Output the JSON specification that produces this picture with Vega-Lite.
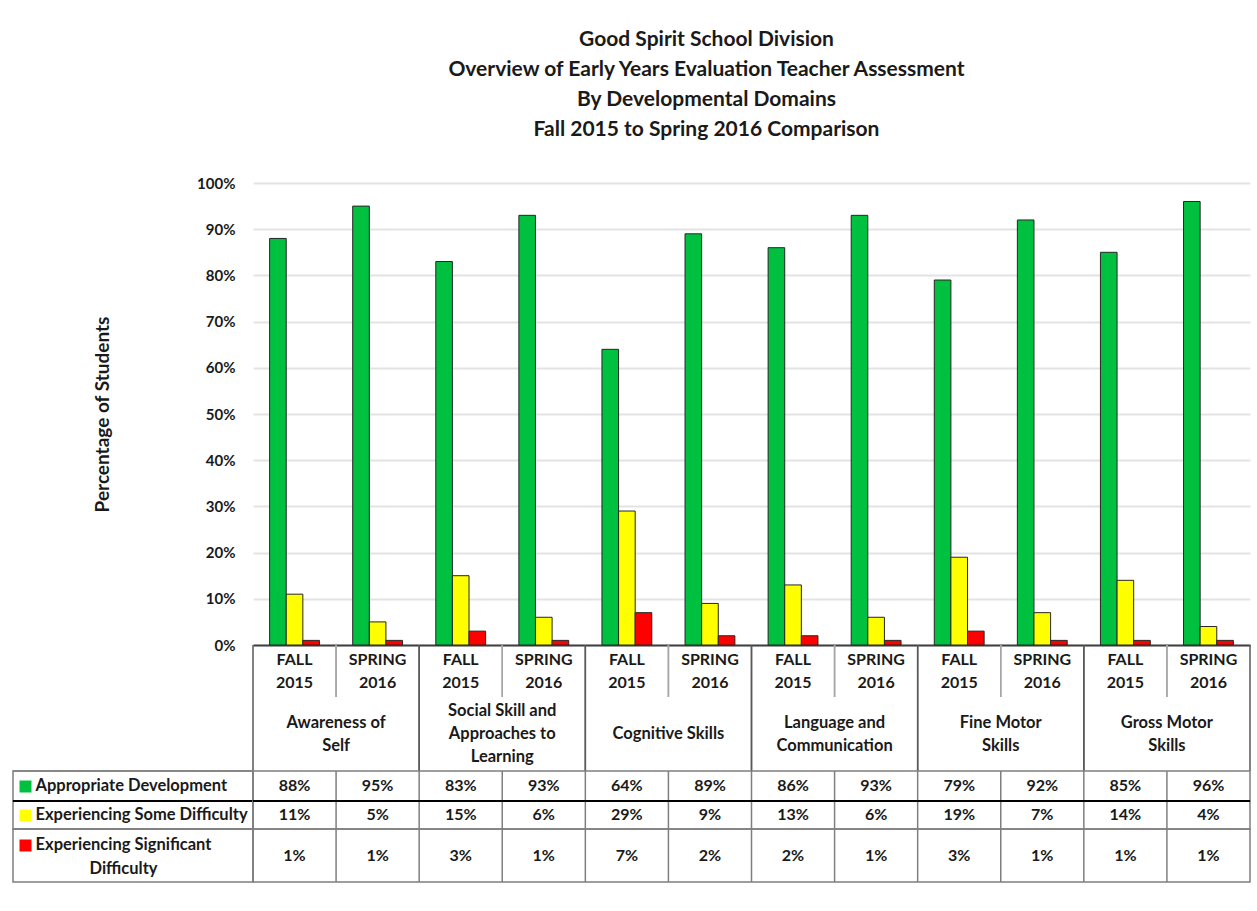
{
  "$schema": "https://vega.github.io/schema/vega-lite/v6.json",
  "background": "white",
  "padding": {"left": 11, "top": 29, "right": 7, "bottom": 10},
  "title": {
    "text": ["Good Spirit School Division", "Overview of Early Years Evaluation Teacher Assessment", "By Developmental Domains", "Fall 2015 to Spring 2016 Comparison"],
    "font": "Lato", "fontSize": 21, "fontWeight": "bold", "color": "#1a1a1a",
    "lineHeight": 30, "anchor": "middle", "dx": 75, "offset": 36
  },
  "datasets": {
    "cells": [
      {"col": "Awareness of Self · FALL 2015", "domain": "Awareness of Self", "season": "FALL 2015", "series": "Appropriate Development", "value": 0.88},
      {"col": "Awareness of Self · FALL 2015", "domain": "Awareness of Self", "season": "FALL 2015", "series": "Experiencing Some Difficulty", "value": 0.11},
      {"col": "Awareness of Self · FALL 2015", "domain": "Awareness of Self", "season": "FALL 2015", "series": "Experiencing Significant Difficulty", "value": 0.01},
      {"col": "Awareness of Self · SPRING 2016", "domain": "Awareness of Self", "season": "SPRING 2016", "series": "Appropriate Development", "value": 0.95},
      {"col": "Awareness of Self · SPRING 2016", "domain": "Awareness of Self", "season": "SPRING 2016", "series": "Experiencing Some Difficulty", "value": 0.05},
      {"col": "Awareness of Self · SPRING 2016", "domain": "Awareness of Self", "season": "SPRING 2016", "series": "Experiencing Significant Difficulty", "value": 0.01},
      {"col": "Social Skill and Approaches to Learning · FALL 2015", "domain": "Social Skill and Approaches to Learning", "season": "FALL 2015", "series": "Appropriate Development", "value": 0.83},
      {"col": "Social Skill and Approaches to Learning · FALL 2015", "domain": "Social Skill and Approaches to Learning", "season": "FALL 2015", "series": "Experiencing Some Difficulty", "value": 0.15},
      {"col": "Social Skill and Approaches to Learning · FALL 2015", "domain": "Social Skill and Approaches to Learning", "season": "FALL 2015", "series": "Experiencing Significant Difficulty", "value": 0.03},
      {"col": "Social Skill and Approaches to Learning · SPRING 2016", "domain": "Social Skill and Approaches to Learning", "season": "SPRING 2016", "series": "Appropriate Development", "value": 0.93},
      {"col": "Social Skill and Approaches to Learning · SPRING 2016", "domain": "Social Skill and Approaches to Learning", "season": "SPRING 2016", "series": "Experiencing Some Difficulty", "value": 0.06},
      {"col": "Social Skill and Approaches to Learning · SPRING 2016", "domain": "Social Skill and Approaches to Learning", "season": "SPRING 2016", "series": "Experiencing Significant Difficulty", "value": 0.01},
      {"col": "Cognitive Skills · FALL 2015", "domain": "Cognitive Skills", "season": "FALL 2015", "series": "Appropriate Development", "value": 0.64},
      {"col": "Cognitive Skills · FALL 2015", "domain": "Cognitive Skills", "season": "FALL 2015", "series": "Experiencing Some Difficulty", "value": 0.29},
      {"col": "Cognitive Skills · FALL 2015", "domain": "Cognitive Skills", "season": "FALL 2015", "series": "Experiencing Significant Difficulty", "value": 0.07},
      {"col": "Cognitive Skills · SPRING 2016", "domain": "Cognitive Skills", "season": "SPRING 2016", "series": "Appropriate Development", "value": 0.89},
      {"col": "Cognitive Skills · SPRING 2016", "domain": "Cognitive Skills", "season": "SPRING 2016", "series": "Experiencing Some Difficulty", "value": 0.09},
      {"col": "Cognitive Skills · SPRING 2016", "domain": "Cognitive Skills", "season": "SPRING 2016", "series": "Experiencing Significant Difficulty", "value": 0.02},
      {"col": "Language and Communication · FALL 2015", "domain": "Language and Communication", "season": "FALL 2015", "series": "Appropriate Development", "value": 0.86},
      {"col": "Language and Communication · FALL 2015", "domain": "Language and Communication", "season": "FALL 2015", "series": "Experiencing Some Difficulty", "value": 0.13},
      {"col": "Language and Communication · FALL 2015", "domain": "Language and Communication", "season": "FALL 2015", "series": "Experiencing Significant Difficulty", "value": 0.02},
      {"col": "Language and Communication · SPRING 2016", "domain": "Language and Communication", "season": "SPRING 2016", "series": "Appropriate Development", "value": 0.93},
      {"col": "Language and Communication · SPRING 2016", "domain": "Language and Communication", "season": "SPRING 2016", "series": "Experiencing Some Difficulty", "value": 0.06},
      {"col": "Language and Communication · SPRING 2016", "domain": "Language and Communication", "season": "SPRING 2016", "series": "Experiencing Significant Difficulty", "value": 0.01},
      {"col": "Fine Motor Skills · FALL 2015", "domain": "Fine Motor Skills", "season": "FALL 2015", "series": "Appropriate Development", "value": 0.79},
      {"col": "Fine Motor Skills · FALL 2015", "domain": "Fine Motor Skills", "season": "FALL 2015", "series": "Experiencing Some Difficulty", "value": 0.19},
      {"col": "Fine Motor Skills · FALL 2015", "domain": "Fine Motor Skills", "season": "FALL 2015", "series": "Experiencing Significant Difficulty", "value": 0.03},
      {"col": "Fine Motor Skills · SPRING 2016", "domain": "Fine Motor Skills", "season": "SPRING 2016", "series": "Appropriate Development", "value": 0.92},
      {"col": "Fine Motor Skills · SPRING 2016", "domain": "Fine Motor Skills", "season": "SPRING 2016", "series": "Experiencing Some Difficulty", "value": 0.07},
      {"col": "Fine Motor Skills · SPRING 2016", "domain": "Fine Motor Skills", "season": "SPRING 2016", "series": "Experiencing Significant Difficulty", "value": 0.01},
      {"col": "Gross Motor Skills · FALL 2015", "domain": "Gross Motor Skills", "season": "FALL 2015", "series": "Appropriate Development", "value": 0.85},
      {"col": "Gross Motor Skills · FALL 2015", "domain": "Gross Motor Skills", "season": "FALL 2015", "series": "Experiencing Some Difficulty", "value": 0.14},
      {"col": "Gross Motor Skills · FALL 2015", "domain": "Gross Motor Skills", "season": "FALL 2015", "series": "Experiencing Significant Difficulty", "value": 0.01},
      {"col": "Gross Motor Skills · SPRING 2016", "domain": "Gross Motor Skills", "season": "SPRING 2016", "series": "Appropriate Development", "value": 0.96},
      {"col": "Gross Motor Skills · SPRING 2016", "domain": "Gross Motor Skills", "season": "SPRING 2016", "series": "Experiencing Some Difficulty", "value": 0.04},
      {"col": "Gross Motor Skills · SPRING 2016", "domain": "Gross Motor Skills", "season": "SPRING 2016", "series": "Experiencing Significant Difficulty", "value": 0.01}
    ],
    "domains": [
      {"domain": "Awareness of Self", "label": "Awareness of\nSelf"},
      {"domain": "Social Skill and Approaches to Learning", "label": "Social Skill and\nApproaches to\nLearning"},
      {"domain": "Cognitive Skills", "label": "Cognitive Skills"},
      {"domain": "Language and Communication", "label": "Language and\nCommunication"},
      {"domain": "Fine Motor Skills", "label": "Fine Motor\nSkills"},
      {"domain": "Gross Motor Skills", "label": "Gross Motor\nSkills"}
    ],
    "legend": [
      {"series": "Appropriate Development"},
      {"series": "Experiencing Some Difficulty"},
      {"series": "Experiencing Significant Difficulty"}
    ]
  },
  "columns": 2,
  "spacing": 0,
  "align": "each",
  "bounds": "flush",
  "concat": [
    {"width": 240, "height": 462, "data": {"values": []}, "mark": "point"},
    {
      "width": 997, "height": 462,
      "data": {"name": "cells"},
      "mark": {"type": "bar", "stroke": "#262626", "strokeWidth": 1},
      "encoding": {
        "x": {"field": "col", "type": "nominal", "sort": null, "scale": {"paddingInner": 0, "paddingOuter": 0},
              "axis": {"labels": false, "ticks": false, "title": null, "domain": true, "domainColor": "#404040", "domainWidth": 2}},
        "xOffset": {"field": "series", "type": "nominal", "sort": null, "scale": {"paddingInner": 0, "paddingOuter": 1.1}},
        "y": {"field": "value", "type": "quantitative", "scale": {"domain": [0, 1]},
              "axis": {"format": ".0%", "values": [0, 0.1, 0.2, 0.3, 0.4, 0.5, 0.6, 0.7, 0.8, 0.9, 1],
                       "title": "Percentage of Students", "grid": true, "gridColor": "#e3e3e3", "gridWidth": 2,
                       "domain": false, "ticks": false, "labelPadding": 18, "titlePadding": 84,
                       "labelFontSize": 15, "titleFontSize": 19}},
        "color": {"field": "series", "type": "nominal", "sort": null,
                  "scale": {"domain": ["Appropriate Development", "Experiencing Some Difficulty", "Experiencing Significant Difficulty"], "range": ["#00C040", "#FFFF00", "#FF0000"]},
                  "legend": null}
      }
    },
    {"width": 240, "height": 52, "data": {"values": []}, "mark": "point"},
    {
      "width": 997, "height": 52,
      "data": {"name": "cells"},
      "transform": [{"filter": {"field": "series", "equal": "Appropriate Development"}}],
      "layer": [
        {"mark": {"type": "rule", "strokeWidth": 1.5},
         "encoding": {"x": {"field": "col", "type": "nominal", "sort": null, "bandPosition": 0, "scale": {"paddingInner": 0, "paddingOuter": 0}, "axis": null},
                      "color": {"condition": {"test": "datum.season == 'SPRING 2016'", "value": "#a6a6a6"}, "value": "#595959"}}},
        {"mark": {"type": "rule", "strokeWidth": 1.5},
         "encoding": {"x": {"field": "col", "type": "nominal", "sort": null, "bandPosition": 1, "axis": null},
                      "color": {"condition": {"test": "datum.season == 'SPRING 2016'", "value": "#595959"}, "value": "#a6a6a6"}}},
        {"mark": {"type": "text", "lineBreak": " ", "lineHeight": 23, "dy": -11.5, "fontSize": 16, "fontWeight": "bold", "color": "#1a1a1a"},
         "encoding": {"x": {"field": "col", "type": "nominal", "sort": null, "axis": null}, "text": {"field": "season"}}}
      ]
    },
    {"width": 240, "height": 74, "data": {"values": []}, "mark": "point"},
    {
      "width": 997, "height": 74,
      "data": {"name": "domains"},
      "layer": [
        {"mark": {"type": "rule", "strokeWidth": 1.5, "color": "#595959"},
         "encoding": {"x": {"field": "domain", "type": "nominal", "bandPosition": 0,
                            "scale": {"domain": ["Awareness of Self", "Social Skill and Approaches to Learning", "Cognitive Skills", "Language and Communication", "Fine Motor Skills", "Gross Motor Skills"], "paddingInner": 0, "paddingOuter": 0}, "axis": null}}},
        {"mark": {"type": "rule", "strokeWidth": 1.5, "color": "#595959"},
         "encoding": {"x": {"field": "domain", "type": "nominal", "bandPosition": 1, "axis": null}}},
        {"transform": [{"filter": {"field": "domain", "oneOf": ["Awareness of Self", "Language and Communication", "Fine Motor Skills", "Gross Motor Skills"]}}],
         "mark": {"type": "text", "lineBreak": "\n", "lineHeight": 23, "dy": -11.5, "fontSize": 16.5, "fontWeight": "bold", "color": "#1a1a1a"},
         "encoding": {"x": {"field": "domain", "type": "nominal", "axis": null}, "text": {"field": "label"}}},
        {"transform": [{"filter": {"field": "domain", "equal": "Social Skill and Approaches to Learning"}}],
         "mark": {"type": "text", "lineBreak": "\n", "lineHeight": 23, "dy": -23, "fontSize": 16.5, "fontWeight": "bold", "color": "#1a1a1a"},
         "encoding": {"x": {"field": "domain", "type": "nominal", "axis": null}, "text": {"field": "label"}}},
        {"transform": [{"filter": {"field": "domain", "equal": "Cognitive Skills"}}],
         "mark": {"type": "text", "fontSize": 16.5, "fontWeight": "bold", "color": "#1a1a1a"},
         "encoding": {"x": {"field": "domain", "type": "nominal", "axis": null}, "text": {"field": "label"}}}
      ]
    },
    {
      "width": 240, "height": 30,
      "data": {"name": "legend"},
      "transform": [{"filter": {"field": "series", "equal": "Appropriate Development"}}],
      "view": {"stroke": "#7f7f7f", "strokeWidth": 1.5},
      "mark": {"type": "rule", "color": "#7f7f7f", "strokeWidth": 1.5},
      "encoding": {"y": {"field": "series", "type": "nominal", "bandPosition": 0, "scale": {"paddingInner": 0, "paddingOuter": 0},
                         "axis": {"orient": "left", "offset": -18, "domain": false, "ticks": true, "tickSize": 12, "tickWidth": 12, "tickColor": "#00C040",
                                  "labelAlign": "left", "labelPadding": -16, "labelLimit": 300, "labelFontSize": 16.5, "title": null}}}
    },
    {
      "width": 997, "height": 30,
      "data": {"name": "cells"},
      "transform": [{"filter": {"field": "series", "equal": "Appropriate Development"}}],
      "view": {"stroke": "#7f7f7f", "strokeWidth": 1.5},
      "layer": [
        {"mark": {"type": "rule", "strokeWidth": 1.5, "color": "#7f7f7f"},
         "encoding": {"x": {"field": "col", "type": "nominal", "sort": null, "bandPosition": 0, "scale": {"paddingInner": 0, "paddingOuter": 0}, "axis": null}}},
        {"mark": {"type": "text", "fontSize": 16, "fontWeight": "bold", "color": "#1a1a1a"},
         "encoding": {"x": {"field": "col", "type": "nominal", "sort": null, "axis": null}, "text": {"field": "value", "type": "quantitative", "format": ".0%"}}}
      ]
    },
    {
      "width": 240, "height": 28,
      "data": {"name": "legend"},
      "transform": [{"filter": {"field": "series", "equal": "Experiencing Some Difficulty"}}],
      "view": {"stroke": "#7f7f7f", "strokeWidth": 1.5},
      "mark": {"type": "rule", "color": "#000000", "strokeWidth": 2},
      "encoding": {"y": {"field": "series", "type": "nominal", "bandPosition": 0, "scale": {"paddingInner": 0, "paddingOuter": 0},
                         "axis": {"orient": "left", "offset": -18, "domain": false, "ticks": true, "tickSize": 12, "tickWidth": 12, "tickColor": "#FFFF00",
                                  "labelAlign": "left", "labelPadding": -16, "labelLimit": 300, "labelFontSize": 16.5, "title": null}}}
    },
    {
      "width": 997, "height": 28,
      "data": {"name": "cells"},
      "transform": [{"filter": {"field": "series", "equal": "Experiencing Some Difficulty"}}],
      "view": {"stroke": "#7f7f7f", "strokeWidth": 1.5},
      "layer": [
        {"mark": {"type": "rule", "strokeWidth": 1.5, "color": "#7f7f7f"},
         "encoding": {"x": {"field": "col", "type": "nominal", "sort": null, "bandPosition": 0, "scale": {"paddingInner": 0, "paddingOuter": 0}, "axis": null}}},
        {"mark": {"type": "rule", "strokeWidth": 2, "color": "#000000"},
         "encoding": {"y": {"field": "series", "type": "nominal", "bandPosition": 0, "scale": {"paddingInner": 0, "paddingOuter": 0}, "axis": null}}},
        {"mark": {"type": "text", "fontSize": 16, "fontWeight": "bold", "color": "#1a1a1a"},
         "encoding": {"x": {"field": "col", "type": "nominal", "sort": null, "axis": null}, "text": {"field": "value", "type": "quantitative", "format": ".0%"}}}
      ]
    },
    {
      "width": 240, "height": 53,
      "data": {"name": "legend"},
      "transform": [{"filter": {"field": "series", "equal": "Experiencing Significant Difficulty"}}],
      "view": {"stroke": "#7f7f7f", "strokeWidth": 1.5},
      "mark": {"type": "rule", "color": "#7f7f7f", "strokeWidth": 1.5},
      "encoding": {"y": {"field": "series", "type": "nominal", "bandPosition": 0, "scale": {"paddingInner": 0, "paddingOuter": 0},
                         "axis": {"orient": "left", "offset": -18, "domain": false, "ticks": true, "tickSize": 12, "tickWidth": 12, "tickColor": "#FF0000", "tickOffset": -11,
                                  "labelAlign": "center", "labelPadding": -104, "labelLimit": 300, "labelFontSize": 16.5, "labelLineHeight": 24,
                                  "labelExpr": "['Experiencing Significant', 'Difficulty']", "title": null}}}
    },
    {
      "width": 997, "height": 53,
      "data": {"name": "cells"},
      "transform": [{"filter": {"field": "series", "equal": "Experiencing Significant Difficulty"}}],
      "view": {"stroke": "#7f7f7f", "strokeWidth": 1.5},
      "layer": [
        {"mark": {"type": "rule", "strokeWidth": 1.5, "color": "#7f7f7f"},
         "encoding": {"x": {"field": "col", "type": "nominal", "sort": null, "bandPosition": 0, "scale": {"paddingInner": 0, "paddingOuter": 0}, "axis": null}}},
        {"mark": {"type": "text", "fontSize": 16, "fontWeight": "bold", "color": "#1a1a1a"},
         "encoding": {"x": {"field": "col", "type": "nominal", "sort": null, "axis": null}, "text": {"field": "value", "type": "quantitative", "format": ".0%"}}}
      ]
    }
  ],
  "config": {
    "font": "Lato",
    "view": {"stroke": null},
    "axis": {"labelFont": "Lato", "titleFont": "Lato", "labelColor": "#1a1a1a", "titleColor": "#1a1a1a", "labelFontWeight": "bold", "titleFontWeight": "bold"},
    "text": {"font": "Lato"}
  }
}
